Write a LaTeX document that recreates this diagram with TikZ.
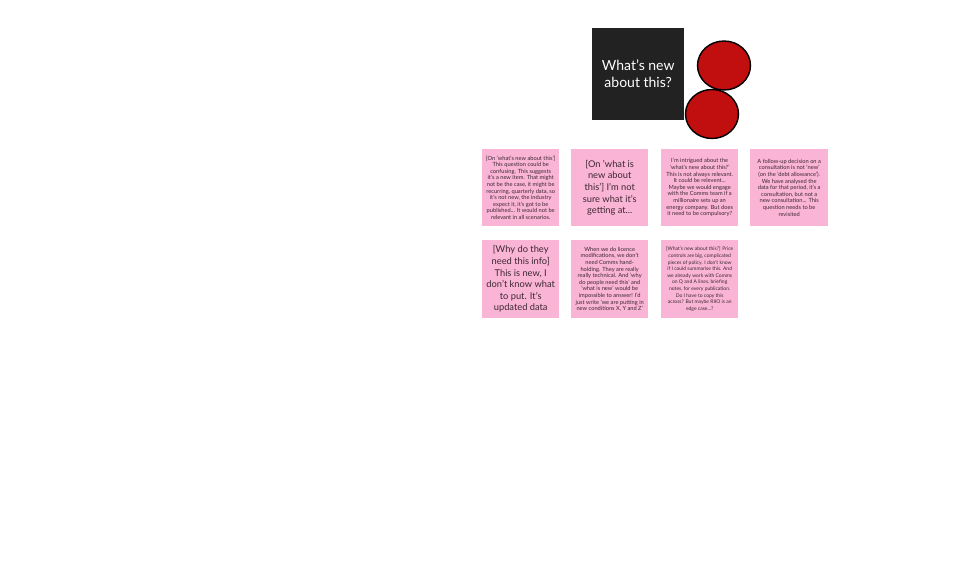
\documentclass[tikz,border=0pt]{standalone}
\usepackage{fontspec}
\setmainfont{Lato}
\usetikzlibrary{shapes.geometric}
\definecolor{stickypink}{RGB}{250,180,214}
\definecolor{darkbox}{RGB}{34,34,34}
\definecolor{dotred}{RGB}{193,14,14}
\definecolor{notetext}{RGB}{60,40,50}
\tikzset{
  sticky/.style={fill=stickypink, anchor=north west, inner sep=0pt, text=notetext,
    minimum width=77pt, minimum height=77pt, align=center},
  tinytext/.style={font=\fontsize{5.7}{6.6}\selectfont},
  bigtext/.style={font=\fontsize{9.3}{11.6}\selectfont},
  dot/.style={ellipse, draw=black, line width=1.4pt, fill=dotred,
    minimum width=53pt, minimum height=49pt, inner sep=0pt},
}
\begin{document}
\begin{tikzpicture}[x=1pt,y=-1pt]
\fill[white] (0,0) rectangle (954,575);
\useasboundingbox (0,0) rectangle (954,575);
% question card and dots
\node[fill=darkbox, text=white, anchor=north west, minimum width=92pt, minimum height=92pt,
  inner sep=0pt, align=center, font=\fontsize{14}{17}\selectfont] (question) at (592,28)
  {What's new\\about this?};
\node[dot] (dotA) at (724,65.5) {};
\node[dot] (dotB) at (712,114) {};
% first row of notes
\node[sticky, tinytext] (noteA) at (482,149) {[On 'what's new about this']\\This question could be\\confusing. This suggests\\it's a new item. That might\\not be the case, it might be\\recurring, quarterly data, so\\it's not new, the industry\\expect it, it's got to be\\published... It would not be\\relevant in all scenarios.};
\node[sticky, bigtext] (noteB) at (571,149) {[On 'what is\\new about\\this'] I'm not\\sure what it's\\getting at...};
\node[sticky, tinytext] (noteC) at (661,149) {I'm intrigued about the\\'what's new about this?'\\This is not always relevant.\\It could be relevent...\\Maybe we would engage\\with the Comms team if a\\millionaire sets up an\\energy company. But does\\it need to be compulsory?};
\node[sticky, tinytext, minimum width=78pt] (noteD) at (750,149) {A follow-up decision on a\\consultation is not 'new'\\(on the 'debt allowance').\\We have analysed the\\data for that period, it's a\\consultation, but not a\\new consultation... This\\question needs to be\\revisited};
% second row of notes
\node[sticky, bigtext, minimum height=78pt] (noteE) at (482,240) {[Why do they\\need this info]\\This is new, I\\don't know what\\to put. It's\\updated data};
\node[sticky, tinytext, minimum height=78pt] (noteF) at (571,240) {When we do licence\\modifications, we don't\\need Comms hand-\\holding. They are really\\really technical. And 'why\\do people need this' and\\'what is new' would be\\impossible to answer! I'd\\just write 'we are putting in\\new conditions X, Y and Z'};
\node[sticky, tinytext, font=\fontsize{5}{6.6}\selectfont, minimum height=78pt] (noteG) at (661,240) {[What's new about this?] Price\\controls are big, complicated\\pieces of policy. I don't know\\if I could summarise this. And\\we already work with Comms\\on Q and A lines, briefing\\notes, for every publication.\\Do I have to copy this\\across? But maybe RIIO is an\\edge case...?};
\end{tikzpicture}
\end{document}
